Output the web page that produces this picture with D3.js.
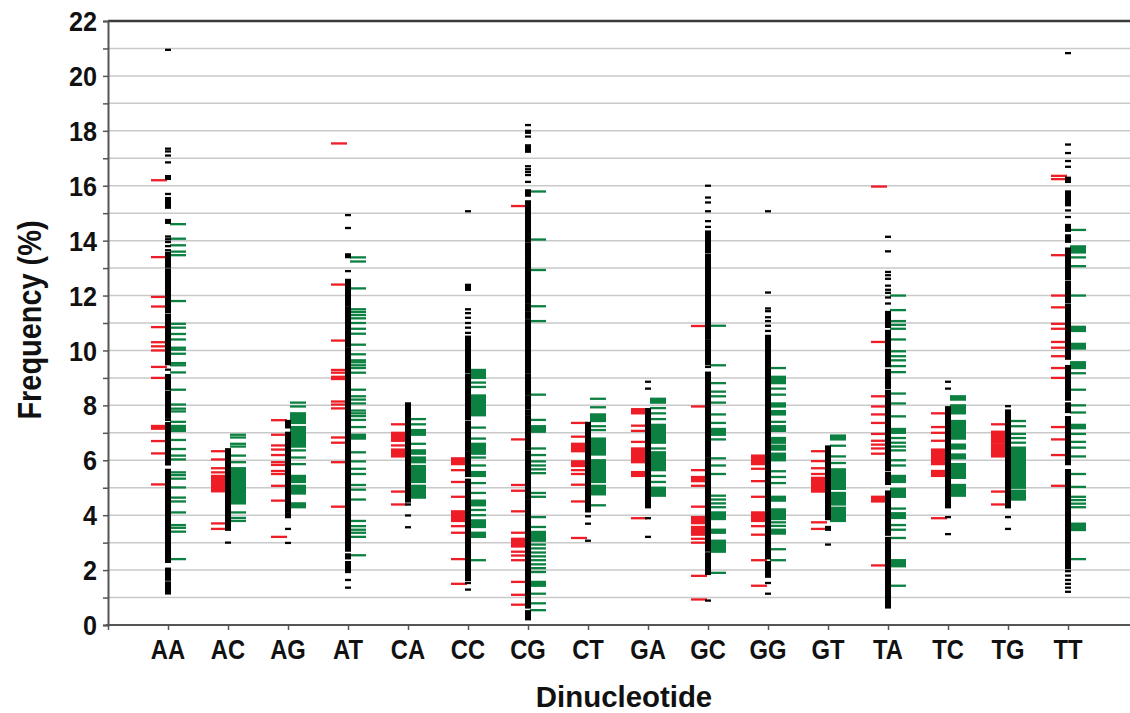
<!DOCTYPE html>
<html>
<head>
<meta charset="utf-8">
<script src="https://cdn.jsdelivr.net/npm/d3@7/dist/d3.min.js"></script>
<style>
  html, body { margin: 0; padding: 0; background: #fff; }
  svg { display: block; }
  text { font-family: "Liberation Sans", Arial, sans-serif; font-weight: bold; fill: #111; }
</style>
</head>
<body>
<svg id="chart" width="1130" height="713"></svg>
<script>
// ---- DATA (frequency %, one list per dinucleotide; [lo, hi] = densely packed run of values) ----
const categories = ["AA","AC","AG","AT","CA","CC","CG","CT","GA","GC","GG","GT","TA","TC","TG","TT"];
const yTickValues = [0,2,4,6,8,10,12,14,16,18,20,22];

const redSeries = [
  [16.2,13.4,11.95,11.6,10.85,10.3,10.15,10.0,9.4,9.0,[7.15,7.25],6.7,6.25,5.12],
  [6.33,6.03,5.71,5.56,[4.87,5.43],3.7,3.5],
  [7.46,6.93,6.54,6.39,6.19,5.93,5.83,5.61,5.5,5.07,4.53,3.21],
  [17.54,12.4,10.36,9.29,9.19,9.04,8.96,8.14,8.03,7.89,6.83,6.64,5.93,4.31],
  [7.31,[6.71,7.0],6.54,[6.14,6.39],4.86,4.39],
  [[5.86,6.07],5.64,5.21,4.67,[3.79,4.14],3.6,3.36,2.4,1.5],
  [15.26,6.76,5.1,4.89,4.14,3.36,[2.86,3.14],2.67,2.53,2.36,1.57,1.1,0.74],
  [7.36,6.86,[6.33,6.6],[5.79,5.96],5.64,5.5,5.11,4.5,3.17],
  [[7.71,7.86],7.26,7.07,6.67,[5.93,6.43],[5.43,5.57],3.89],
  [10.89,7.96,5.64,[5.24,5.39],5.07,4.31,[3.71,3.93],[3.29,3.57],3.14,3.0,1.79,0.93],
  [[5.86,6.17],5.69,5.24,4.67,[3.79,4.1],3.6,3.29,2.36,1.43],
  [6.33,5.97,5.71,5.5,[4.86,5.36],3.74,3.5],
  [15.97,10.31,8.33,7.96,7.67,7.36,6.96,6.71,6.57,6.43,6.24,[4.5,4.67],2.17],
  [7.71,7.21,7.0,6.71,[5.86,6.39],[5.43,5.61],3.89],
  [7.31,[6.64,7.04],[6.14,6.57],4.86,4.39],
  [16.36,16.24,13.47,12.0,11.57,10.97,10.79,10.31,10.1,9.79,9.36,9.0,7.21,6.76,6.19,5.07]
];

const blackSeries = [
  [20.95,17.35,17.25,17.1,16.85,[16.25,16.35],15.7,[15.2,15.55],[14.65,14.75],14.15,14.05,13.95,13.8,13.65,[13.05,13.55],[11.4,12.95],[9.5,11.3],9.3,[8.6,9.1],[7.55,8.5],7.47,[5.85,7.35],[2.55,5.65],[2.3,2.5],[1.65,2.05],[1.15,1.55]],
  [[3.64,6.4],[3.47,3.6],3.0],
  [[7.2,7.43],[4.14,7.0],[3.93,4.07],3.5,2.99],
  [14.93,14.46,[13.4,13.5],12.89,[11.64,12.57],[10.93,11.57],[10.14,10.86],[9.86,10.07],[2.71,9.79],[2.43,2.57],[1.93,2.29],1.64,1.36],
  [[4.5,8.07],4.39,3.99,3.56],
  [15.07,[12.21,12.39],11.5,11.36,11.19,11.0,10.83,10.64,[9.2,10.5],[7.5,9.1],[6.36,7.4],[5.43,6.29],[1.64,5.29],1.53,1.29],
  [18.21,18.0,17.93,17.79,[17.24,17.47],16.71,16.6,16.5,16.39,16.14,[15.64,15.83],[15.27,15.43],[15.06,15.21],[14.86,15.0],[14.67,14.8],[13.97,14.61],[13.7,13.89],[13.5,13.64],[13.27,13.44],[13.07,13.21],[12.24,13.0],[11.74,12.19],[11.47,11.67],[11.19,11.39],[10.96,11.1],[10.6,10.89],[10.13,10.53],[9.19,10.06],[8.39,9.1],[7.89,8.31],[7.67,7.81],[7.36,7.6],[7.07,7.29],[6.89,7.0],[6.39,6.81],[5.1,6.31],[4.6,5.03],[1.24,4.53],[0.64,1.17],[0.21,0.5]],
  [[4.14,7.36],3.96,3.69,3.07],
  [8.86,8.61,[4.29,7.86],3.89,3.21],
  [16.0,15.57,15.39,15.07,14.71,14.5,[13.57,14.33],[10.43,13.47],[9.95,10.36],[9.5,9.9],9.4,[6.14,9.19],[2.71,6.07],[1.86,2.61],0.89],
  [15.07,12.11,11.53,11.43,11.21,11.07,10.9,10.71,[5.36,10.53],[2.43,5.29],[1.76,2.29],1.53,1.14],
  [[3.86,6.5],[3.47,3.57],2.93],
  [14.14,13.61,12.86,12.74,12.61,12.36,12.21,12.1,11.93,11.71,[10.86,11.4],[9.43,10.71],[8.64,9.29],[5.64,8.53],[5.14,5.53],[3.29,4.86],[0.64,3.17]],
  [8.86,8.61,[4.29,7.93],3.93,3.31],
  [7.97,[4.29,7.81],3.93,3.5],
  [20.83,17.5,17.19,16.9,16.69,[16.14,16.29],[15.29,15.79],15.1,14.86,[14.36,14.57],[13.96,14.19],[12.6,13.71],[11.75,12.5],[9.7,11.65],[8.21,9.43],[7.76,8.07],[5.86,7.57],[2.07,5.64],1.96,1.8,1.64,1.5,1.36,1.21]
];

const greenSeries = [
  [14.6,14.07,13.83,13.6,13.47,11.8,10.97,10.83,10.6,10.4,10.1,10.03,9.88,9.54,9.46,9.2,8.57,8.03,7.88,7.78,7.4,[7.07,7.25],6.74,6.41,6.17,6.03,5.56,5.46,5.33,5.01,4.64,4.5,4.1,3.64,3.54,3.4,2.4],
  [6.93,6.83,6.6,6.5,6.17,5.93,[4.43,5.71],4.1,3.9,3.79],
  [8.1,7.96,[7.36,7.71],[6.5,7.21],6.36,6.1,5.86,[5.21,5.43],[4.79,5.07],[4.29,4.43]],
  [13.39,13.24,12.26,11.5,11.4,11.29,11.17,11.0,10.79,10.61,10.21,9.86,9.64,9.57,9.46,9.36,9.19,8.57,8.33,8.21,8.07,7.81,7.71,7.61,7.47,7.21,[6.79,6.93],6.29,5.96,5.69,5.5,5.1,4.93,4.57,3.79,3.6,3.47,3.36,3.21,2.54],
  [7.5,7.31,[6.93,7.1],6.6,[6.24,6.36],[5.93,6.1],[5.21,5.79],[4.64,5.07]],
  [[9.0,9.29],8.83,8.67,[7.64,8.36],7.19,6.79,[6.24,6.6],6.1,5.81,[5.43,5.57],5.17,4.81,[4.36,4.53],4.19,4.0,[3.57,3.81],[3.21,3.36],2.36],
  [15.79,14.04,12.93,11.61,11.07,8.39,7.47,[7.04,7.24],6.43,6.19,5.96,5.81,5.67,5.53,4.81,4.67,3.93,3.57,[3.07,3.39],2.93,2.79,2.64,2.5,2.36,2.21,2.07,1.93,[1.43,1.57],1.14,0.79,0.54],
  [8.24,7.93,[7.43,7.67],7.24,7.1,[6.21,6.79],[5.21,6.0],[4.76,5.07],4.36],
  [[8.1,8.24],7.9,7.71,7.5,[6.64,7.29],6.43,[5.64,6.29],5.43,5.21,[4.71,5.0]],
  [10.9,9.46,8.81,8.5,8.33,8.1,7.67,7.36,[6.93,7.14],6.76,6.07,5.81,5.5,4.71,4.57,4.43,4.29,[3.86,4.1],[3.36,3.47],[2.67,3.07],1.9],
  [9.36,[8.81,9.04],8.61,8.39,[7.96,8.07],[7.67,7.79],7.4,[7.07,7.24],[6.64,6.81],[6.39,6.53],[6.0,6.24],5.6,5.39,5.17,[4.53,4.67],[3.86,4.21],3.74,3.61,[3.33,3.47],2.76,2.36],
  [[6.76,6.9],6.53,6.14,5.9,[4.96,5.67],[4.39,4.81],[3.79,4.27]],
  [12.0,11.47,11.07,10.93,10.79,10.4,9.97,9.79,9.64,9.43,9.21,8.43,8.07,7.6,[7.0,7.14],6.81,6.64,6.5,6.36,6.0,5.81,[5.21,5.43],[4.67,4.96],4.24,[3.9,4.07],3.64,3.47,3.17,[2.14,2.36],1.43],
  [[8.21,8.33],[7.71,8.0],[6.79,7.43],[6.43,6.57],[6.07,6.21],[5.36,5.86],[4.71,5.1]],
  [7.43,7.24,6.96,6.81,6.64,[5.0,6.46],[4.57,4.89]],
  [14.39,[13.57,13.79],13.39,13.07,12.0,[10.71,10.86],[10.07,10.24],[9.36,9.57],9.17,8.57,8.0,7.74,[7.17,7.29],6.96,6.67,6.46,6.14,5.5,5.03,4.67,4.55,4.42,4.29,[3.46,3.69],2.4]
];

// ---- LAYOUT ----
const svg = d3.select("#chart");
const plotLeft = 108, plotRight = 1128, plotTop = 21, plotBottom = 625;
const x = d3.scaleLinear().domain([0, categories.length + 1]).range([plotLeft, plotRight]);
const y = d3.scaleLinear().domain([0, 22]).range([plotBottom, plotTop]);

// gridlines every 1%
const gridVals = d3.range(1, 22);
svg.append("g").selectAll("line").data(gridVals).join("line")
  .attr("x1", plotLeft).attr("x2", 1130)
  .attr("y1", d => y(d)).attr("y2", d => y(d))
  .attr("stroke", "#c9c9c9").attr("stroke-width", 1.5);

// top border
svg.append("line").attr("x1", plotLeft).attr("x2", 1130).attr("y1", y(22)).attr("y2", y(22))
  .attr("stroke", "#3a3a3a").attr("stroke-width", 2.5);

// marks
const seriesDefs = [
  { data: redSeries,   color: "#ee1c25", x0: -17, x1: -1 },
  { data: greenSeries, color: "#0b8040", x0: 2,   x1: 18 },
  { data: blackSeries, color: "#000000", x0: -3,  x1: 3 }
];
const half = 1.15;
seriesDefs.forEach(s => {
  const flat = [];
  s.data.forEach((vals, i) => vals.forEach(v => {
    const lo = Array.isArray(v) ? v[0] : v, hi = Array.isArray(v) ? v[1] : v;
    flat.push({ i, lo, hi });
  }));
  svg.append("g").selectAll("rect").data(flat).join("rect")
    .attr("x", d => x(d.i + 1) + s.x0)
    .attr("width", s.x1 - s.x0)
    .attr("y", d => y(d.hi) - half)
    .attr("height", d => y(d.lo) - y(d.hi) + 2 * half)
    .attr("fill", s.color);
});

// y axis
const yAxis = d3.axisLeft(y).tickValues(d3.range(0, 23)).tickSize(5).tickFormat("");
const gy = svg.append("g").attr("transform", `translate(${plotLeft},0)`).call(yAxis);
gy.select(".domain").attr("stroke", "#555").attr("stroke-width", 2);
gy.selectAll(".tick line").attr("stroke", "#555").attr("stroke-width", 1.5);

svg.append("g").selectAll("text").data(yTickValues).join("text")
  .attr("transform", d => `translate(97,${y(d)}) scale(0.9,1)`)
  .attr("text-anchor", "end").attr("dy", "0.36em")
  .style("font-size", "28px")
  .text(d => d);

// x axis
const xAxis = d3.axisBottom(x).tickValues(d3.range(0, categories.length + 1)).tickSize(5).tickFormat("");
const gx = svg.append("g").attr("transform", `translate(0,${plotBottom})`).call(xAxis);
gx.select(".domain").attr("d", `M${plotLeft - 2},0H1130`).attr("stroke", "#555").attr("stroke-width", 2);
gx.selectAll(".tick line").attr("stroke", "#555").attr("stroke-width", 1.5);

svg.append("g").selectAll("text").data(categories).join("text")
  .attr("transform", (d, i) => `translate(${x(i + 1)},659) scale(0.85,1)`)
  .attr("text-anchor", "middle")
  .style("font-size", "28px")
  .text(d => d);

// axis titles
svg.append("text")
  .attr("transform", `translate(624,707) scale(0.98,1)`)
  .attr("text-anchor", "middle")
  .style("font-size", "30px")
  .text("Dinucleotide");

svg.append("text")
  .attr("transform", `translate(41,320) rotate(-90) scale(0.85,1)`)
  .attr("text-anchor", "middle")
  .style("font-size", "34px")
  .text("Frequency (%)");
</script>
</body>
</html>
